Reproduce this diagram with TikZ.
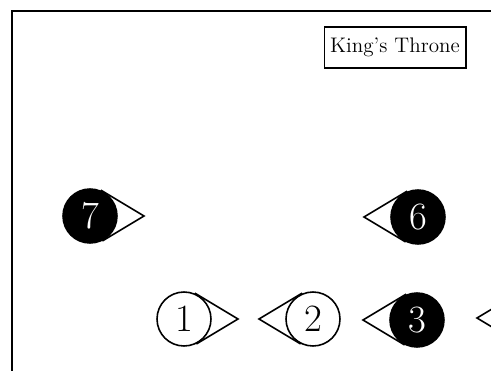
\documentclass[tikz,border=0pt]{standalone}
\usetikzlibrary{positioning}
\begin{document}
\begin{tikzpicture}[x=0.02cm, y=-0.02cm, line width=0.9pt,
    main/.style = {draw, circle, minimum size=1.08cm, inner sep=0pt, font=\fontsize{22}{26}\selectfont},
    dark/.style = {main, fill=black, text=white},
    tip/.style = {shorten <=-2pt, shorten >=-1pt}]
    \useasboundingbox (0,0) rectangle (491,370);
    \clip (0,0) rectangle (491,370);
    \draw[line width=1.3pt] (12,390) -- (12,11) -- (510,11);
    \node[draw, minimum width=2.72cm, minimum height=0.82cm, font=\fontsize{12}{14}\selectfont] (k) at (395,47.5) {King's Throne};
    \node[dark] (7) at (90,216) {7};
    \node[dark] (6) at (418,217) {6};
    \node[main] (1) at (184,319) {1};
    \node[main] (2) at (313,319) {2};
    \node[dark] (3) at (417,320) {3};
    \node[dark] (4) at (531,318) {};
    \path (7.center) ++(54,0) coordinate (t7);
    \path (1.center) ++(54,0) coordinate (t1);
    \path (6.center) ++(-54,0) coordinate (t6);
    \path (2.center) ++(-54,0) coordinate (t2);
    \path (3.center) ++(-54,0) coordinate (t3);
    \path (4.center) ++(-54,0) coordinate (t4);
    \draw[tip] (7.60) -- (t7) -- (7.-60);
    \draw[tip] (1.60) -- (t1) -- (1.-60);
    \draw[tip] (6.120) -- (t6) -- (6.240);
    \draw[tip] (2.120) -- (t2) -- (2.240);
    \draw[tip] (3.120) -- (t3) -- (3.240);
    \draw[tip] (4.120) -- (t4) -- (4.240);
\end{tikzpicture}
\end{document}
